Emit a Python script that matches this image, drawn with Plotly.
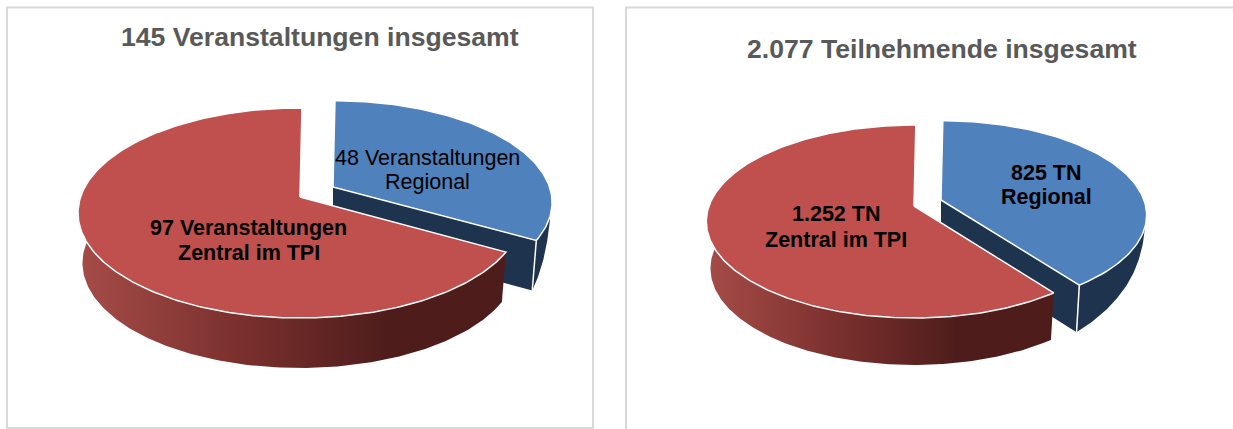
import numpy as np
import plotly.graph_objects as go

# ---- data ----
titles = ["145 Veranstaltungen insgesamt", "2.077 Teilnehmende insgesamt"]
regional_values = [48, 825]
zentral_values = [97, 1252]
regional_labels = [["48 Veranstaltungen", "Regional"], ["825 TN", "Regional"]]
zentral_labels = [["97 Veranstaltungen", "Zentral im TPI"], ["1.252 TN", "Zentral im TPI"]]

# ---- colours ----
BLUE, BLUE_WALL = "#4F81BD", "#1E334D"
RED = "#C0504D"
WALL_SCALE = ["#A64C48", "#7A302E", "#4E1D1B", "#4E1D1B"]
BORDER = "#D9D9D9"
TITLE = "#595959"
FONT = "Liberation Sans"

# ---- layout of each 3-D pie (pixels of the picture) ----
pies = [
    dict(ax=300, ay=197, r=219.4, q=102.6, p=0.152, depth=50, dx=33, dy=-10, bsx=0.987, bsy=0.97,
         title=(320, 37), reg=(427, [158, 182]), zen=(248.5, [228, 253]), reg_bold=False,
         panel=(7, 593, 428)),
    dict(ax=914, ay=206, r=205, q=94, p=0.1606, depth=47, dx=27, dy=-6, bsx=0.99, bsy=0.98,
         title=(942, 49), reg=(1046, [173, 197]), zen=(836, [214, 240]), reg_bold=True,
         panel=(626, 1240, 445)),
]
TIP_ANGLE = np.radians(106)


def project(g, theta, ox=0.0, oy=0.0, low=0.0, sx=1.0, sy=1.0):
    """Perspective projection of the disc rim at angle theta (clockwise from top).
    low is the fraction of the wall depth to drop (0 = top face, 1 = bottom face)."""
    a, b = np.sin(theta), -np.cos(theta)
    w = 1 - g["p"] * b
    x, y = g["r"] * a / w * sx, g["q"] * b / w * sy
    x = x * (1 - 0.02 * np.minimum(low, 1))
    y = y + g["depth"] * low
    return g["ax"] + ox + x, g["ay"] + oy + y


fig = go.Figure()


def poly(x, y, fill=None, line=None, width=0, gradient=None):
    kw = dict(fillgradient=gradient) if gradient else dict(fillcolor=fill)
    fig.add_trace(go.Scatter(
        x=list(x), y=list(y), mode="lines", fill="toself",
        line=dict(color=line or "rgba(0,0,0,0)", width=width),
        hoverinfo="skip", showlegend=False, **kw))


for g, rv, zv in zip(pies, regional_values, zentral_values):
    rot = np.radians(0.6)
    split = rot + 2 * np.pi * rv / (rv + zv)
    end = rot + 2 * np.pi
    ox, oy = g["dx"], g["dy"]
    bs = dict(sx=g["bsx"], sy=g["bsy"])

    # blue slice: walls first
    t = np.linspace(rot, split, 120)
    tx, ty = project(g, t, ox, oy, **bs)
    cx, cy = g["ax"] + ox, g["ay"] + oy
    sx_, sy_ = project(g, np.array([split]), ox, oy, **bs)
    lx, ly = project(g, np.array([split]), ox, oy, low=1.0, **bs)
    # inner radial wall
    poly([cx, sx_[0], lx[0], cx, cx], [cy, sy_[0], ly[0], cy + g["depth"], cy], BLUE_WALL)
    # outer wall: tapers towards the silhouette point of the rim
    t2 = np.linspace(TIP_ANGLE, split, 60)
    taper = ((t2 - TIP_ANGLE) / (split - TIP_ANGLE)) ** 0.45
    ux, uy = project(g, t2, ox, oy, **bs)
    vx, vy = project(g, t2, ox, oy, low=taper, **bs)
    poly(np.r_[ux, vx[::-1]], np.r_[uy, vy[::-1]], BLUE_WALL)
    # white rim above the outer wall and seam between the two walls
    fig.add_trace(go.Scatter(x=[sx_[0], lx[0]], y=[sy_[0], ly[0]], mode="lines",
                             line=dict(color="#FFFFFF", width=1.5),
                             hoverinfo="skip", showlegend=False))
    # blue top
    poly(np.r_[cx, tx, cx], np.r_[cy, ty, cy], BLUE, "#FFFFFF", 1.5)

    # red slice: outer wall with a horizontal gradient
    t3 = np.linspace(split, np.radians(278), 160)
    ux, uy = project(g, t3)
    vx, vy = project(g, t3, low=1.0)
    xmin, xmax = min(ux.min(), vx.min()), max(ux.max(), vx.max())
    grad = dict(type="horizontal", start=float(xmin), stop=float(xmax),
                colorscale=[[0, WALL_SCALE[0]], [0.38, WALL_SCALE[1]],
                            [0.72, WALL_SCALE[2]], [1, WALL_SCALE[3]]])
    poly(np.r_[ux, vx[::-1]], np.r_[uy, vy[::-1]], gradient=grad)
    # red top
    t4 = np.linspace(split, end, 260)
    tx, ty = project(g, t4)
    poly(np.r_[g["ax"], tx, g["ax"]], np.r_[g["ay"], ty, g["ay"]], RED, "#FFFFFF", 1.5)

annotations = []


def text(x, y, s, size, color, bold):
    annotations.append(dict(
        x=x, y=y, xref="x", yref="y", text=f"<b>{s}</b>" if bold else s,
        showarrow=False, xanchor="center", yanchor="middle",
        font=dict(family=FONT, size=size, color=color)))


shapes = []
for g, ttl, rl, zl in zip(pies, titles, regional_labels, zentral_labels):
    text(g["title"][0], g["title"][1], ttl, 26.6, TITLE, True)
    for s, y in zip(rl, g["reg"][1]):
        text(g["reg"][0], y, s, 21.5, "#000000", g["reg_bold"])
    for s, y in zip(zl, g["zen"][1]):
        text(g["zen"][0], y, s, 21.5, "#000000", True)
    shapes.append(dict(type="rect", xref="x", yref="y", x0=g["panel"][0], x1=g["panel"][1],
                       y0=7.5, y1=g["panel"][2], line=dict(color=BORDER, width=2), layer="below"))

fig.update_layout(
    width=1233, height=429, margin=dict(l=0, r=0, t=0, b=0),
    paper_bgcolor="#FFFFFF", plot_bgcolor="#FFFFFF", showlegend=False,
    xaxis=dict(range=[0, 1233], visible=False, fixedrange=True),
    yaxis=dict(range=[429, 0], visible=False, fixedrange=True),
    annotations=annotations, shapes=shapes,
)
fig.write_html("out.html", config={"displayModeBar": False},
               post_script="document.body.style.margin='0';")
